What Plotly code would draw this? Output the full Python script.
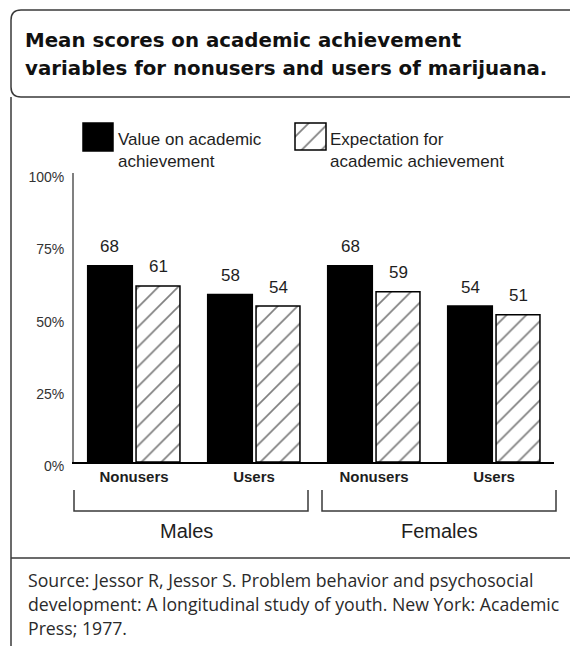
import plotly.graph_objects as go

W, H = 570, 646

# ---- data -------------------------------------------------------------
groups = ["Males", "Females"]
categories = ["Nonusers", "Users", "Nonusers", "Users"]
value_scores = [68, 58, 68, 54]          # Value on academic achievement
expectation_scores = [61, 54, 59, 51]    # Expectation for academic achievement
y_ticks = [0, 25, 50, 75, 100]
y_tick_labels = ["0%", "25%", "50%", "75%", "100%"]
series_names = ["Value on academic<br>achievement",
                "Expectation for<br>academic achievement"]
title_lines = ["Mean scores on academic achievement",
               "variables for nonusers and users of marijuana."]
source_lines = ["Source: Jessor R, Jessor S. Problem behavior and psychosocial",
                "development: A longitudinal study of youth. New York: Academic",
                "Press; 1977."]

# ---- styling ----------------------------------------------------------
SANS = "Liberation Sans, Arial, sans-serif"
TITLE_FONT = "DejaVu Sans, Liberation Sans, sans-serif"
NOTE_FONT = "Open Sans, Liberation Sans, sans-serif"
INK = "#1e1e1e"
FRAME = "#3a3a3a"
HATCH = dict(shape="/", size=14, solidity=0.12, fgcolor="#000000",
             bgcolor="#ffffff")


def px(x):
    return x / W


def py(y):
    return 1 - y / H


x_pos = list(range(len(categories)))
# bar geometry in category units (one category = 1.0)
BLACK_OFF, BLACK_W = -0.386, 0.372
HATCH_OFF, HATCH_W = 0.017, 0.366

fig = go.Figure()

fig.add_trace(go.Bar(
    x=x_pos, y=value_scores, offset=BLACK_OFF, width=BLACK_W,
    marker=dict(color="#000000", line=dict(color="#000000", width=1.5)),
    showlegend=False, hoverinfo="skip"))

fig.add_trace(go.Bar(
    x=x_pos, y=expectation_scores, offset=HATCH_OFF, width=HATCH_W,
    marker=dict(color="#ffffff", pattern=HATCH,
                line=dict(color="#000000", width=1.5)),
    showlegend=False, hoverinfo="skip"))

# legend swatches drawn as single bars in tiny subplots
swatches = [
    dict(ax="2", box=(83, 123, 113, 151), hatched=False),
    dict(ax="3", box=(295, 123, 326, 150), hatched=True),
]
layout_axes = {}
for s in swatches:
    x0, y0, x1, y1 = s["box"]
    pad = 3
    wpx, hpx = x1 - x0, y1 - y0
    marker = (dict(color="#ffffff", pattern=HATCH,
                   line=dict(color="#000000", width=1.5))
              if s["hatched"] else
              dict(color="#000000", line=dict(color="#000000", width=1.5)))
    fig.add_trace(go.Bar(x=[0], y=[1], width=[1], marker=marker,
                         xaxis="x" + s["ax"], yaxis="y" + s["ax"],
                         showlegend=False, hoverinfo="skip"))
    layout_axes["xaxis" + s["ax"]] = dict(
        domain=[px(x0 - pad), px(x1 + pad)],
        range=[-0.5 - pad / wpx, 0.5 + pad / wpx],
        visible=False, fixedrange=True, anchor="y" + s["ax"])
    layout_axes["yaxis" + s["ax"]] = dict(
        domain=[py(y1 + pad), py(y0 - pad)],
        range=[-pad / hpx, 1 + pad / hpx],
        visible=False, fixedrange=True, anchor="x" + s["ax"])

annotations = []

# value labels above the bars
for offs, wid, vals in ((BLACK_OFF, BLACK_W, value_scores),
                        (HATCH_OFF, HATCH_W, expectation_scores)):
    for i, v in enumerate(vals):
        annotations.append(dict(
            x=i + offs + wid / 2, y=v, xref="x", yref="y",
            text=str(v), showarrow=False, yanchor="middle", yshift=19,
            font=dict(family=SANS, size=17, color=INK)))

# legend text
for name, x0 in zip(series_names, (116, 328)):
    annotations.append(dict(
        x=px(x0), y=py(150), xref="paper", yref="paper", text=name,
        showarrow=False, xanchor="left", yanchor="middle", align="left",
        font=dict(family=SANS, size=17, color=INK)))

# group labels under the brackets
for name, xc in zip(groups, (186, 439)):
    annotations.append(dict(
        x=px(xc), y=py(531), xref="paper", yref="paper", text=name,
        showarrow=False, xanchor="center", yanchor="middle",
        font=dict(family=SANS, size=20, color=INK)))

# title
for line, yc in zip(title_lines, (40, 68)):
    annotations.append(dict(
        x=px(23), y=py(yc), xref="paper", yref="paper",
        text="<b>" + line + "</b>", showarrow=False,
        xanchor="left", yanchor="middle",
        font=dict(family=TITLE_FONT, size=19.8, color="#111111")))

# source note
for line, yc in zip(source_lines, (580, 604, 628)):
    annotations.append(dict(
        x=px(26), y=py(yc), xref="paper", yref="paper", text=line,
        showarrow=False, xanchor="left", yanchor="middle",
        font=dict(family=NOTE_FONT, size=17.7, color="#2a2a2a")))

shapes = []
# rounded title box (open on the right edge of the page)
r = 10
title_path = (f"M {px(W + 2)},{py(10)} L {px(11 + r)},{py(10)} "
              f"Q {px(11)},{py(10)} {px(11)},{py(10 + r)} "
              f"L {px(11)},{py(97 - r)} "
              f"Q {px(11)},{py(97)} {px(11 + r)},{py(97)} "
              f"L {px(W + 2)},{py(97)}")
shapes.append(dict(type="path", path=title_path, xref="paper", yref="paper",
                   line=dict(color=FRAME, width=1.5)))
# body frame: left rule and rule above the source note
shapes.append(dict(type="line", xref="paper", yref="paper",
                   x0=px(11), x1=px(11), y0=py(97), y1=py(H + 2),
                   line=dict(color=FRAME, width=1.5)))
shapes.append(dict(type="line", xref="paper", yref="paper",
                   x0=px(11), x1=px(W + 2), y0=py(558), y1=py(558),
                   line=dict(color=FRAME, width=1.5)))
# group brackets
for xa, xb in ((74, 308), (322, 556)):
    shapes.append(dict(type="path", xref="paper", yref="paper",
                       path=(f"M {px(xa)},{py(490)} L {px(xa)},{py(511)} "
                             f"L {px(xb)},{py(511)} L {px(xb)},{py(490)}"),
                       line=dict(color=FRAME, width=1.5)))

fig.update_layout(
    width=W, height=H,
    margin=dict(l=0, r=0, t=0, b=0, autoexpand=False),
    paper_bgcolor="#ffffff", plot_bgcolor="#ffffff",
    showlegend=False, barmode="overlay",
    xaxis=dict(domain=[px(74), px(554)], range=[-0.5, 3.5],
               tickvals=x_pos, ticktext=categories, showgrid=False,
               zeroline=False, showline=True, linecolor="#000000",
               linewidth=2, ticks="", fixedrange=True,
               tickfont=dict(family=SANS, size=15, color=INK,
                             weight="bold")),
    yaxis=dict(domain=[py(462), py(173.3)], range=[0, 100],
               tickvals=y_ticks, ticktext=y_tick_labels, showgrid=False,
               zeroline=False, showline=True, linecolor="#808080",
               linewidth=2, ticks="", fixedrange=True,
               ticklabelstandoff=5, ticklabelshift=4,
               tickfont=dict(family=SANS, size=14, color="#333333")),
    annotations=annotations, shapes=shapes,
    **layout_axes,
)

fig.write_html("out.html", config=dict(displayModeBar=False))
